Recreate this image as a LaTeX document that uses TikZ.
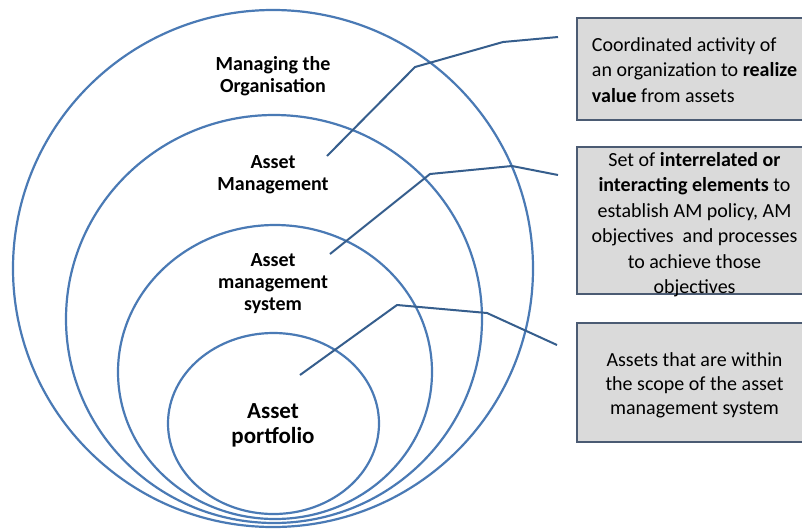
\documentclass[tikz,border=0pt]{standalone}
\usepackage{fontspec}
\setmainfont{Carlito}
\usetikzlibrary{shapes.geometric}
\definecolor{ringblue}{HTML}{4A7AB5}
\definecolor{leaderblue}{HTML}{365E8D}
\definecolor{boxedge}{HTML}{4B5B73}
\definecolor{boxfill}{HTML}{DADADA}
\begin{document}
\begin{tikzpicture}[x=1pt,y=-1pt,
  ring/.style={ellipse, draw=ringblue, line width=2.2pt, inner sep=0pt},
  leader/.style={draw=leaderblue, line width=2pt, line join=round},
  infobox/.style={draw=boxedge, line width=2pt, fill=boxfill, minimum width=235pt, inner sep=0pt},
  boxtext/.style={inner sep=0pt, font=\fontsize{20}{25.5}\selectfont},
  lbl/.style={align=center, inner sep=0pt, font=\bfseries\fontsize{20}{22}\selectfont}]
\useasboundingbox (0,0) rectangle (802,528);
\clip (0,0) rectangle (802,528);
\fill[white] (0,0) rectangle (802,528);
% rings
\node[ring, minimum width=520pt, minimum height=517pt] (org) at (273,268.5) {};
\node[ring, minimum width=416pt, minimum height=408pt] (am) at (274,319) {};
\node[ring, minimum width=314pt, minimum height=294pt] (ams) at (275,372) {};
\node[ring, minimum width=211pt, minimum height=181pt] (ap) at (273.5,423.5) {};
% labels
\node[lbl] (t1) at (273,76) {Managing the\\Organisation};
\node[lbl] (t2) at (273,175) {Asset\\Management};
\node[lbl] (t3) at (273,284) {Asset\\management\\system};
\node[lbl, font=\bfseries\fontsize{23}{25}\selectfont] (t4) at (273,425) {Asset\\portfolio};
% boxes
\node[infobox, minimum height=102pt] (b1) at (694.5,69) {};
\node[boxtext, align=left] (b1t) at (694.5,70) {Coordinated activity of\\an organization to \textbf{realize}\\\textbf{value} from assets};
\node[infobox, minimum height=147pt] (b2) at (694.5,220.5) {};
\node[boxtext, align=center] (b2t) at (694.5,224.5) {Set of \textbf{interrelated or}\\\textbf{interacting elements} to\\establish AM policy, AM\\objectives~ and processes\\to achieve those\\objectives};
\node[infobox, minimum height=119pt] (b3) at (694.5,382.5) {};
\node[boxtext, align=center, font=\fontsize{20}{24}\selectfont] (b3t) at (694.5,385) {Assets that are within\\the scope of the asset\\management system};
% leaders
\coordinate (s1) at (327,156);
\coordinate (k1a) at (415,67);
\coordinate (k1b) at (503,42);
\coordinate (e1) at (558,37);
\coordinate (s2) at (330,254);
\coordinate (k2a) at (430,174);
\coordinate (k2b) at (512,166);
\coordinate (e2) at (558,175);
\coordinate (s3) at (300,375);
\coordinate (k3a) at (397,305);
\coordinate (k3b) at (487,313);
\coordinate (e3) at (557,345);
\draw[leader] (s1) -- (k1a) -- (k1b) -- (e1);
\draw[leader] (s2) -- (k2a) -- (k2b) -- (e2);
\draw[leader] (s3) -- (k3a) -- (k3b) -- (e3);
\end{tikzpicture}
\end{document}
